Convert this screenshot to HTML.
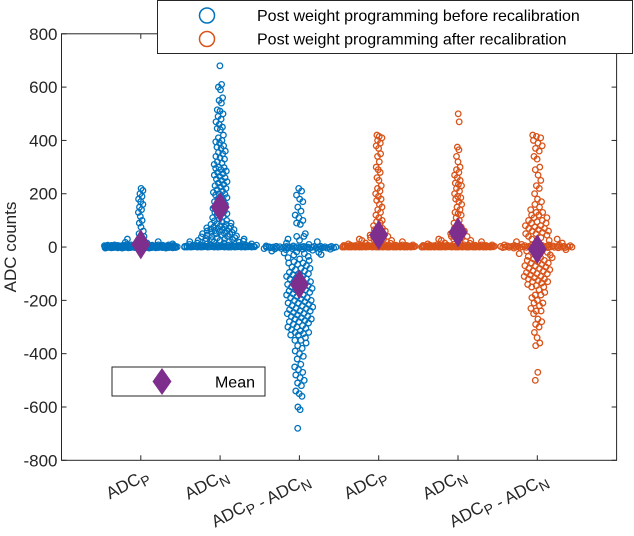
<!DOCTYPE html>
<html><head><meta charset="utf-8"><style>
html,body{margin:0;padding:0;background:#fff;}
svg{display:block;font-family:"Liberation Sans",Arial,sans-serif;}
</style></head><body>
<svg id="chart" width="634" height="536" viewBox="0 0 634 536" xmlns="http://www.w3.org/2000/svg">
<rect x="0" y="0" width="634" height="536" fill="#fff"/>
<g id="marks"></g>
<g id="axes"></g>
</svg>
<script>
const categories = ["ADC_P","ADC_N","ADC_P - ADC_N","ADC_P","ADC_N","ADC_P - ADC_N"];
const groupSeries = [0,0,0,1,1,1];
const seriesNames = ["Post weight programming before recalibration","Post weight programming after recalibration"];
const seriesColors = ["#0072BD","#D95319"];
const yTicks = [-800,-600,-400,-200,0,200,400,600,800];
const meanValues = [10,150,-140,45,55,-8];
const g1 = [0,2,-2,4,1,-1,3,6,-3,0,5,2,-4,8,1,-1,3,0,7,-2,0,2,-2,4,1,-1,3,6,-3,0,5,2,-4,8,1,-1,3,0,7,-2,0,2,-2,4,1,-1,3,6,-3,0,5,2,-4,8,1,-1,3,0,7,-2,0,2,-2,4,1,-1,3,6,-3,0,5,2,-4,8,1,-1,3,0,7,-2,0,2,-2,4,1,-1,3,6,-3,0,5,2,-4,8,1,-1,3,0,7,-2,0,2,-2,4,1,-1,3,6,-3,0,
220,212,200,190,180,170,160,150,140,130,115,100,90,75,60,50,40,30,25,20,18,15,12];
const g2 = [0,2,1,4,1,0,3,6,2,0,5,2,1,8,1,0,3,0,7,2,0,2,1,4,1,0,3,6,2,0,5,2,1,8,1,0,3,0,7,2,0,2,1,4,1,0,3,6,2,0,5,2,1,8,1,0,3,0,7,2,10,12,15,18,20,22,25,28,30,
680,610,600,590,560,550,540,515,510,500,490,480,470,460,450,445,440,420,410,400,395,390,380,375,370,360,355,350,340,335,330,320,315,310,300,298,295,290,285,280,275,270,265,260,255,250,245,240,235,230,225,220,215,210,205,200,198,195,190,185,180,175,170,165,160,155,150,145,140,135,130,128,125,120,115,110,105,100,98,95,90,88,85,80,78,75,72,70,68,65,62,60,58,55,52,50,48,45,42,40,38,35,32,30,28,25,22,20,18,15,12,10,35,45,55,65,75,85,40,50,60,70];
const g3 = [0,-2,2,-4,-1,1,-3,-6,3,0,-5,-2,4,-8,-1,1,-3,0,-7,2,0,-2,2,-4,-1,1,-3,-6,3,0,-5,-2,4,-8,-1,1,-3,0,-7,2,-10,-12,-15,-18,-20,-22,-25,-28,-30,10,15,20,25,30,40,
220,210,195,180,170,150,135,120,110,100,90,85,50,40,
-35,-40,-45,-50,-55,-60,-65,-70,-75,-80,-85,-90,-95,-100,-105,-110,-115,-120,-125,-130,-135,-140,-145,-150,-155,-160,-165,-170,-175,-180,-185,-190,-195,-200,-205,-210,-215,-220,-225,-230,-235,-240,-245,-250,-255,-260,-265,-270,-275,-280,-285,-290,-295,-300,-305,-310,-315,-320,-325,-330,-340,-350,-360,-370,-380,-390,-400,-410,-420,-440,-450,-460,-470,-480,-490,-500,-510,-520,-540,-550,-560,-600,-610,-680,
-60,-80,-100,-120,-140,-160,-180,-200,-220,-240,-260,-280,-300,-320,-110,-150,-190,-230,-270,-130,-170,-210,-250,-350,-330];
const g4 = [0,2,1,4,1,0,3,6,2,0,5,2,1,8,1,0,3,0,7,2,0,2,1,4,1,0,3,6,2,0,5,2,1,8,1,0,3,0,7,2,0,2,1,4,1,0,3,6,2,0,5,2,1,8,1,0,3,0,7,2,0,2,1,4,1,0,3,6,2,0,5,2,1,8,1,0,3,0,7,2,10,12,14,
420,415,410,400,390,380,370,350,340,320,300,290,280,260,250,230,220,210,200,190,180,175,160,150,140,130,120,110,100,95,90,80,75,70,65,60,55,50,45,40,35,30,28,25,20,15,60,40,30,25,20];
const g5 = [0,2,1,4,1,0,3,6,2,0,5,2,1,8,1,0,3,0,7,2,0,2,1,4,1,0,3,6,2,0,5,2,1,8,1,0,3,0,7,2,0,2,1,4,1,0,3,6,2,0,5,2,1,8,1,0,3,0,7,2,0,2,1,4,1,0,3,6,2,0,5,2,1,8,1,0,3,0,7,2,10,12,14,
500,470,375,365,340,320,300,290,280,270,260,250,240,235,230,220,210,200,190,185,180,170,160,150,140,130,125,120,110,100,90,80,75,70,60,55,50,45,40,35,30,25,20,60,50,40,30,25,20,15];
const g6 = [0,2,-2,4,1,-1,3,6,-3,0,5,2,-4,8,1,-1,3,0,7,-2,0,2,-2,4,1,-1,3,6,-3,0,5,2,-4,8,1,-1,3,0,7,-2,10,-10,15,-15,
420,415,410,400,390,380,370,360,340,330,300,290,270,250,230,220,200,180,170,160,150,140,130,120,110,100,95,90,80,75,70,65,60,55,50,45,40,35,30,25,20,15,
-20,-25,-30,-35,-40,-45,-50,-55,-60,-65,-70,-75,-80,-85,-90,-95,-100,-105,-110,-115,-120,-125,-130,-135,-140,-145,-150,-160,-170,-180,-190,-200,-210,-220,-230,-240,-250,-270,-280,-290,-300,-320,-340,-360,-370,-470,-500,
-30,-50,-70,-90,-110,-130,-150,-180,-210,-240,30,50,70,90,110,130,60,80,100,120,-60,-80,-100,-120,-40];
const groupValues = [g1,g2,g3,g4,g5,g6];

const NS="http://www.w3.org/2000/svg";
const L=61.5,R=616.6,T=33.8,B=460.3;
const xOf = k => L + (k+1)*(R-L)/7;
const yOf = v => B - (v+800)*(B-T)/1600;
const marks=document.getElementById('marks');
const axes=document.getElementById('axes');
function mk(tag,attrs,parent){const e=document.createElementNS(NS,tag);for(const k in attrs)e.setAttribute(k,attrs[k]);parent.appendChild(e);return e;}

groupValues.forEach((vals,gi)=>{
  const sorted=vals.slice().sort((a,b)=>a-b);
  const bw=18;
  const dens=v=>sorted.reduce((s,u)=>s+Math.exp(-0.5*((v-u)/bw)**2),0);
  const ds=sorted.map(dens);
  const mx=Math.max(...ds);
  const cx=xOf(gi);
  const color=seriesColors[groupSeries[gi]];
  sorted.forEach((v,i)=>{
    const w=37*Math.pow(ds[i]/mx,0.8);
    const f=((i*0.6180339)%1)*2-1;
    const c=mk('circle',{cx:(cx+w*f).toFixed(1),cy:yOf(v).toFixed(1),r:2.8,fill:'none',stroke:color,'stroke-width':1.3},marks);
    
    
  });
});
meanValues.forEach((m,gi)=>{
  const cx=xOf(gi),cy=yOf(m);
  const d=mk('polygon',{points:`${cx},${cy-15} ${cx+9.5},${cy} ${cx},${cy+15} ${cx-9.5},${cy}`,fill:'#7E2F8E'},marks);
  
  
});

const fr=mk('rect',{x:L,y:T,width:R-L,height:B-T,fill:'none',stroke:'#262626','stroke-width':1},axes);


yTicks.forEach(t=>{
  const y=yOf(t);
  mk('line',{x1:L,x2:L+5,y1:y,y2:y,stroke:'#262626'},axes);
  mk('line',{x1:R,x2:R-5,y1:y,y2:y,stroke:'#262626'},axes);
  const tx=mk('text',{x:L-4,y:y+6,'text-anchor':'end','font-size':17,fill:'#262626'},axes);
  tx.textContent=t;
  
  
});
categories.forEach((c,gi)=>{
  const x=xOf(gi);
  mk('line',{x1:x,x2:x,y1:B,y2:B-5,stroke:'#262626'},axes);
  mk('line',{x1:x,x2:x,y1:T,y2:T+5,stroke:'#262626'},axes);
  const tx=mk('text',{x:x+9,y:B+18,'text-anchor':'end','font-size':17,fill:'#262626',transform:`rotate(-28 ${x+9} ${B+18})`},axes);
  const parts=c.split(' - ');
  parts.forEach((p,pi)=>{
    if(pi>0){const s=mk('tspan',{},tx);s.textContent=' - ';}
    const [base,sub]=p.split('_');
    const a=mk('tspan',{},tx);a.textContent=base;
    const b=mk('tspan',{'font-size':14,dy:5},tx);b.textContent=sub;
    const r=mk('tspan',{'font-size':17,dy:-5},tx);r.textContent='';
  });
  
  
});
const yt=mk('text',{x:16,y:247,'text-anchor':'middle','font-size':17,fill:'#262626',transform:'rotate(-90 16 247)'},axes);
yt.textContent='ADC counts';



const lg=mk('g',{},axes);


mk('rect',{x:157.5,y:0.5,width:475,height:53,fill:'#fff',stroke:'#262626','stroke-width':1},lg);
seriesNames.forEach((n,i)=>{
  const y=15.5+i*23.5;
  const c=mk('circle',{cx:207,cy:y,r:7.5,fill:'none',stroke:seriesColors[i],'stroke-width':1.5},lg);
  
  
  const t=mk('text',{x:257,y:y+5.5,'font-size':16,fill:'#000'},lg);
  t.textContent=n;
  
  
});
const ml=mk('g',{},axes);


mk('rect',{x:112,y:367,width:153,height:29,fill:'#fff',stroke:'#262626','stroke-width':1},ml);
mk('polygon',{points:'162,368 171.5,381.5 162,395 152.5,381.5',fill:'#7E2F8E'},ml);
const mt=mk('text',{x:255,y:387.5,'text-anchor':'end','font-size':16,fill:'#000'},ml);
mt.textContent='Mean';


</script>
</body></html>
